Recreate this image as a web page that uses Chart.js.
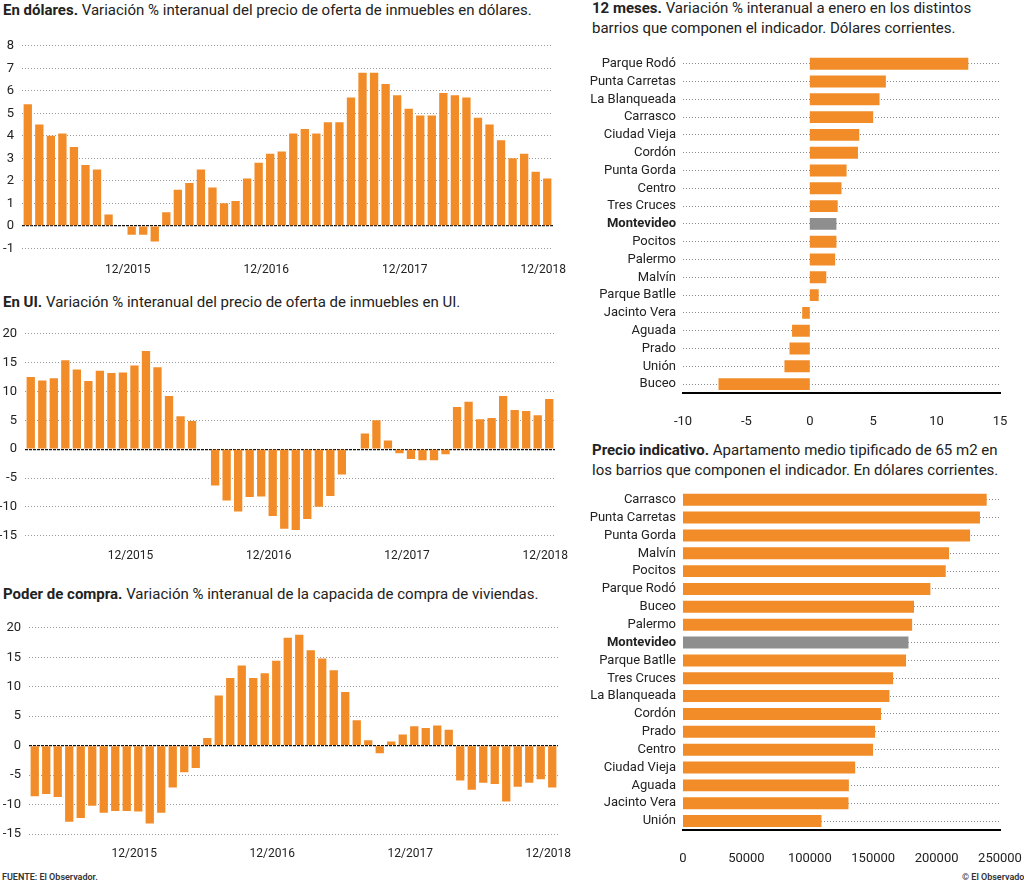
<!DOCTYPE html>
<html>
<head>
<meta charset="utf-8">
<script src="https://cdn.jsdelivr.net/npm/chart.js"></script>
<style>
  body { margin: 0; background: #fff; width: 1024px; height: 885px; position: relative; overflow: hidden; font-family: Roboto, sans-serif; color: #222; }
  canvas { position: absolute; }
  .titulo { position: absolute; font-size: 15px; line-height: 20px; white-space: nowrap; }
  .titulo b { font-weight: 700; }
  .pie { position: absolute; font-size: 9px; font-weight: 600; color: #333; white-space: nowrap; }
</style>
</head>
<body>
<div class="titulo" style="left:3px; top:0px;"><b>En dólares.</b> Variación % interanual del precio de oferta de inmuebles en dólares.</div>
<div class="titulo" style="left:3px; top:292px;"><b>En UI.</b> Variación % interanual del precio de oferta de inmuebles en UI.</div>
<div class="titulo" style="left:3px; top:584px;"><b>Poder de compra.</b> Variación % interanual de la capacida de compra de viviendas.</div>
<div class="titulo" style="left:592px; top:-2px;"><b>12 meses.</b> Variación % interanual a enero en los distintos<br>barrios que componen el indicador. Dólares corrientes.</div>
<div class="titulo" style="left:592px; top:440px;"><b>Precio indicativo.</b> Apartamento medio tipificado de 65 m2 en<br>los barrios que componen el indicador. En dólares corrientes.</div>

<canvas id="cDolares" width="577" height="245" style="left:0px; top:30px;"></canvas>
<canvas id="cUI" width="579" height="242" style="left:0px; top:318px;"></canvas>
<canvas id="cCompra" width="582" height="246" style="left:0px; top:612px;"></canvas>
<canvas id="cVar12" width="439" height="388" style="left:585px; top:40px;"></canvas>
<canvas id="cPrecio" width="439" height="395" style="left:585px; top:470px;"></canvas>

<div class="pie" style="left:2px; top:872px;">FUENTE: El Observador.</div>
<div class="pie" style="left:962px; top:872px;">© El Observador</div>

<script>
// --- Data ---
const meses = [
  '03/2015','04/2015','05/2015','06/2015','07/2015','08/2015','09/2015','10/2015','11/2015','12/2015',
  '01/2016','02/2016','03/2016','04/2016','05/2016','06/2016','07/2016','08/2016','09/2016','10/2016','11/2016','12/2016',
  '01/2017','02/2017','03/2017','04/2017','05/2017','06/2017','07/2017','08/2017','09/2017','10/2017','11/2017','12/2017',
  '01/2018','02/2018','03/2018','04/2018','05/2018','06/2018','07/2018','08/2018','09/2018','10/2018','11/2018','12/2018'
];

const enDolares = [5.4, 4.5, 4.0, 4.1, 3.5, 2.7, 2.5, 0.5, 0.0, -0.4,
  -0.4, -0.7, 0.6, 1.6, 1.9, 2.5, 1.7, 1.0, 1.1, 2.1,
  2.8, 3.2, 3.3, 4.1, 4.3, 4.1, 4.6, 4.6, 5.7, 6.8,
  6.8, 6.3, 5.8, 5.2, 4.9, 4.9, 5.9, 5.8, 5.7, 4.8,
  4.5, 3.8, 3.0, 3.2, 2.4, 2.1];

const enUI = [12.5, 11.9, 12.3, 15.4, 13.8, 11.8, 13.6, 13.2, 13.3, 14.5,
  17.0, 14.2, 9.2, 5.7, 4.9, 0, -6.3, -8.9, -10.8, -8.3,
  -8.2, -11.6, -13.8, -14.0, -12.1, -10.0, -8.1, -4.4, 0, 2.7,
  5.0, 1.5, -0.7, -1.7, -1.9, -1.9, -0.9, 7.3, 8.2, 5.2,
  5.4, 9.2, 6.8, 6.6, 5.9, 8.7];

const poderCompra = [-8.6, -8.2, -8.7, -12.9, -12.3, -10.2, -11.4, -11.1, -11.1, -11.2,
  -13.2, -11.4, -7.1, -4.5, -3.8, 1.3, 8.5, 11.5, 13.6, 11.5,
  12.3, 14.4, 18.3, 18.8, 16.2, 14.8, 12.8, 9.1, 4.3, 0.9,
  -1.3, 0.7, 1.9, 3.3, 3.0, 3.4, 2.7, -5.9, -7.5, -6.3,
  -6.5, -9.5, -7.0, -6.3, -5.7, -7.1];

const barrios12 = ['Parque Rodó', 'Punta Carretas', 'La Blanqueada', 'Carrasco', 'Ciudad Vieja', 'Cordón',
  'Punta Gorda', 'Centro', 'Tres Cruces', 'Montevideo', 'Pocitos', 'Palermo', 'Malvín', 'Parque Batlle',
  'Jacinto Vera', 'Aguada', 'Prado', 'Unión', 'Buceo'];
const variacion12 = [12.5, 6.0, 5.5, 5.0, 3.9, 3.8, 2.9, 2.5, 2.2, 2.1, 2.1, 2.0, 1.3, 0.7, -0.6, -1.4, -1.6, -2.0, -7.2];

const barriosPrecio = ['Carrasco', 'Punta Carretas', 'Punta Gorda', 'Malvín', 'Pocitos', 'Parque Rodó', 'Buceo',
  'Palermo', 'Montevideo', 'Parque Batlle', 'Tres Cruces', 'La Blanqueada', 'Cordón', 'Prado', 'Centro',
  'Ciudad Vieja', 'Aguada', 'Jacinto Vera', 'Unión'];
const precio = [239500, 234200, 226400, 209800, 207200, 195100, 182200, 180700, 177800, 175900,
  165700, 162800, 156200, 151500, 149900, 135800, 130800, 130500, 109200];

// --- Style ---
const NARANJA = '#F28C28';
const GRIS = '#8E8E8E';
const GRILLA = '#9a9a9a';

Chart.defaults.font.family = 'Roboto';
Chart.defaults.color = '#222';
Chart.defaults.animation = false;
Chart.defaults.responsive = false;
Chart.defaults.plugins.legend.display = false;
Chart.defaults.plugins.tooltip.enabled = false;

// Monthly series (left column)
function graficoMensual(id, datos, yMin, yMax, paso, anchoY, altoX, padTop, padX) {
  return new Chart(document.getElementById(id), {
    type: 'bar',
    data: {
      labels: meses,
      datasets: [{ data: datos, backgroundColor: NARANJA, barPercentage: 0.72, categoryPercentage: 1 }]
    },
    options: {
      layout: { padding: { top: padTop, right: 24, left: 0, bottom: 0 } },
      scales: {
        x: {
          grid: { display: false },
          border: { display: false },
          ticks: {
            autoSkip: false, maxRotation: 0, padding: padX, labelOffset: -4,
            font: { size: 12 },
            callback: (v, i) => meses[i].startsWith('12/') ? meses[i] : ''
          },
          afterFit: (s) => { s.height = altoX; }
        },
        y: {
          min: yMin, max: yMax,
          grid: {
            drawTicks: false,
            color: (c) => c.tick && c.tick.value === 0 ? '#111' : GRILLA,
            lineWidth: (c) => c.tick && c.tick.value === 0 ? 1.3 : 1
          },
          border: { display: false, dash: (c) => c.tick && c.tick.value === 0 ? [3, 1] : [1, 2] },
          ticks: { stepSize: paso, padding: 8, font: { size: 13 } },
          afterFit: (s) => { s.width = anchoY; }
        }
      }
    }
  });
}

graficoMensual('cDolares', enDolares, -1, 8, 1, 22, 26.7, 6.7, 6);
graficoMensual('cUI', enUI, -15, 20, 5, 25, 24.3, 8.7, 5);
graficoMensual('cCompra', poderCompra, -15, 20, 5, 29, 24, 10.7, 5);

// Neighbourhood rankings (right column)
function graficoBarrios(id, etiquetas, datos, xMin, xMax, paso, padTop) {
  return new Chart(document.getElementById(id), {
    type: 'bar',
    data: {
      labels: etiquetas,
      datasets: [{
        data: datos,
        backgroundColor: etiquetas.map(b => b === 'Montevideo' ? GRIS : NARANJA),
        barPercentage: 0.67, categoryPercentage: 1
      }]
    },
    options: {
      indexAxis: 'y',
      layout: { padding: { top: padTop, right: 24, left: 0, bottom: 0 } },
      scales: {
        x: {
          min: xMin, max: xMax,
          grid: { display: false },
          border: { display: true, color: '#000', width: 2 },
          ticks: { stepSize: paso, padding: 13, font: { size: 13 }, callback: (v) => String(v) },
          // keep the plot edge fixed even if the last label spills over
          afterFit: (s) => { s.height = 35; s.paddingLeft = 0; s.paddingRight = 0; }
        },
        y: {
          grid: { offset: false, drawTicks: false, color: '#8a8a8a' },
          border: { display: false, dash: [1, 2] },
          ticks: {
            autoSkip: false,
            padding: 7,
            font: (c) => ({ size: 13, weight: c.tick && c.tick.label === 'Montevideo' ? 'bold' : 'normal' })
          },
          afterFit: (s) => { s.width = 98; }
        }
      }
    }
  });
}

graficoBarrios('cVar12', barrios12, variacion12, -10, 15, 5, 13);
graficoBarrios('cPrecio', barriosPrecio, precio, 0, 250000, 50000, 20.8);
</script>
</body>
</html>
